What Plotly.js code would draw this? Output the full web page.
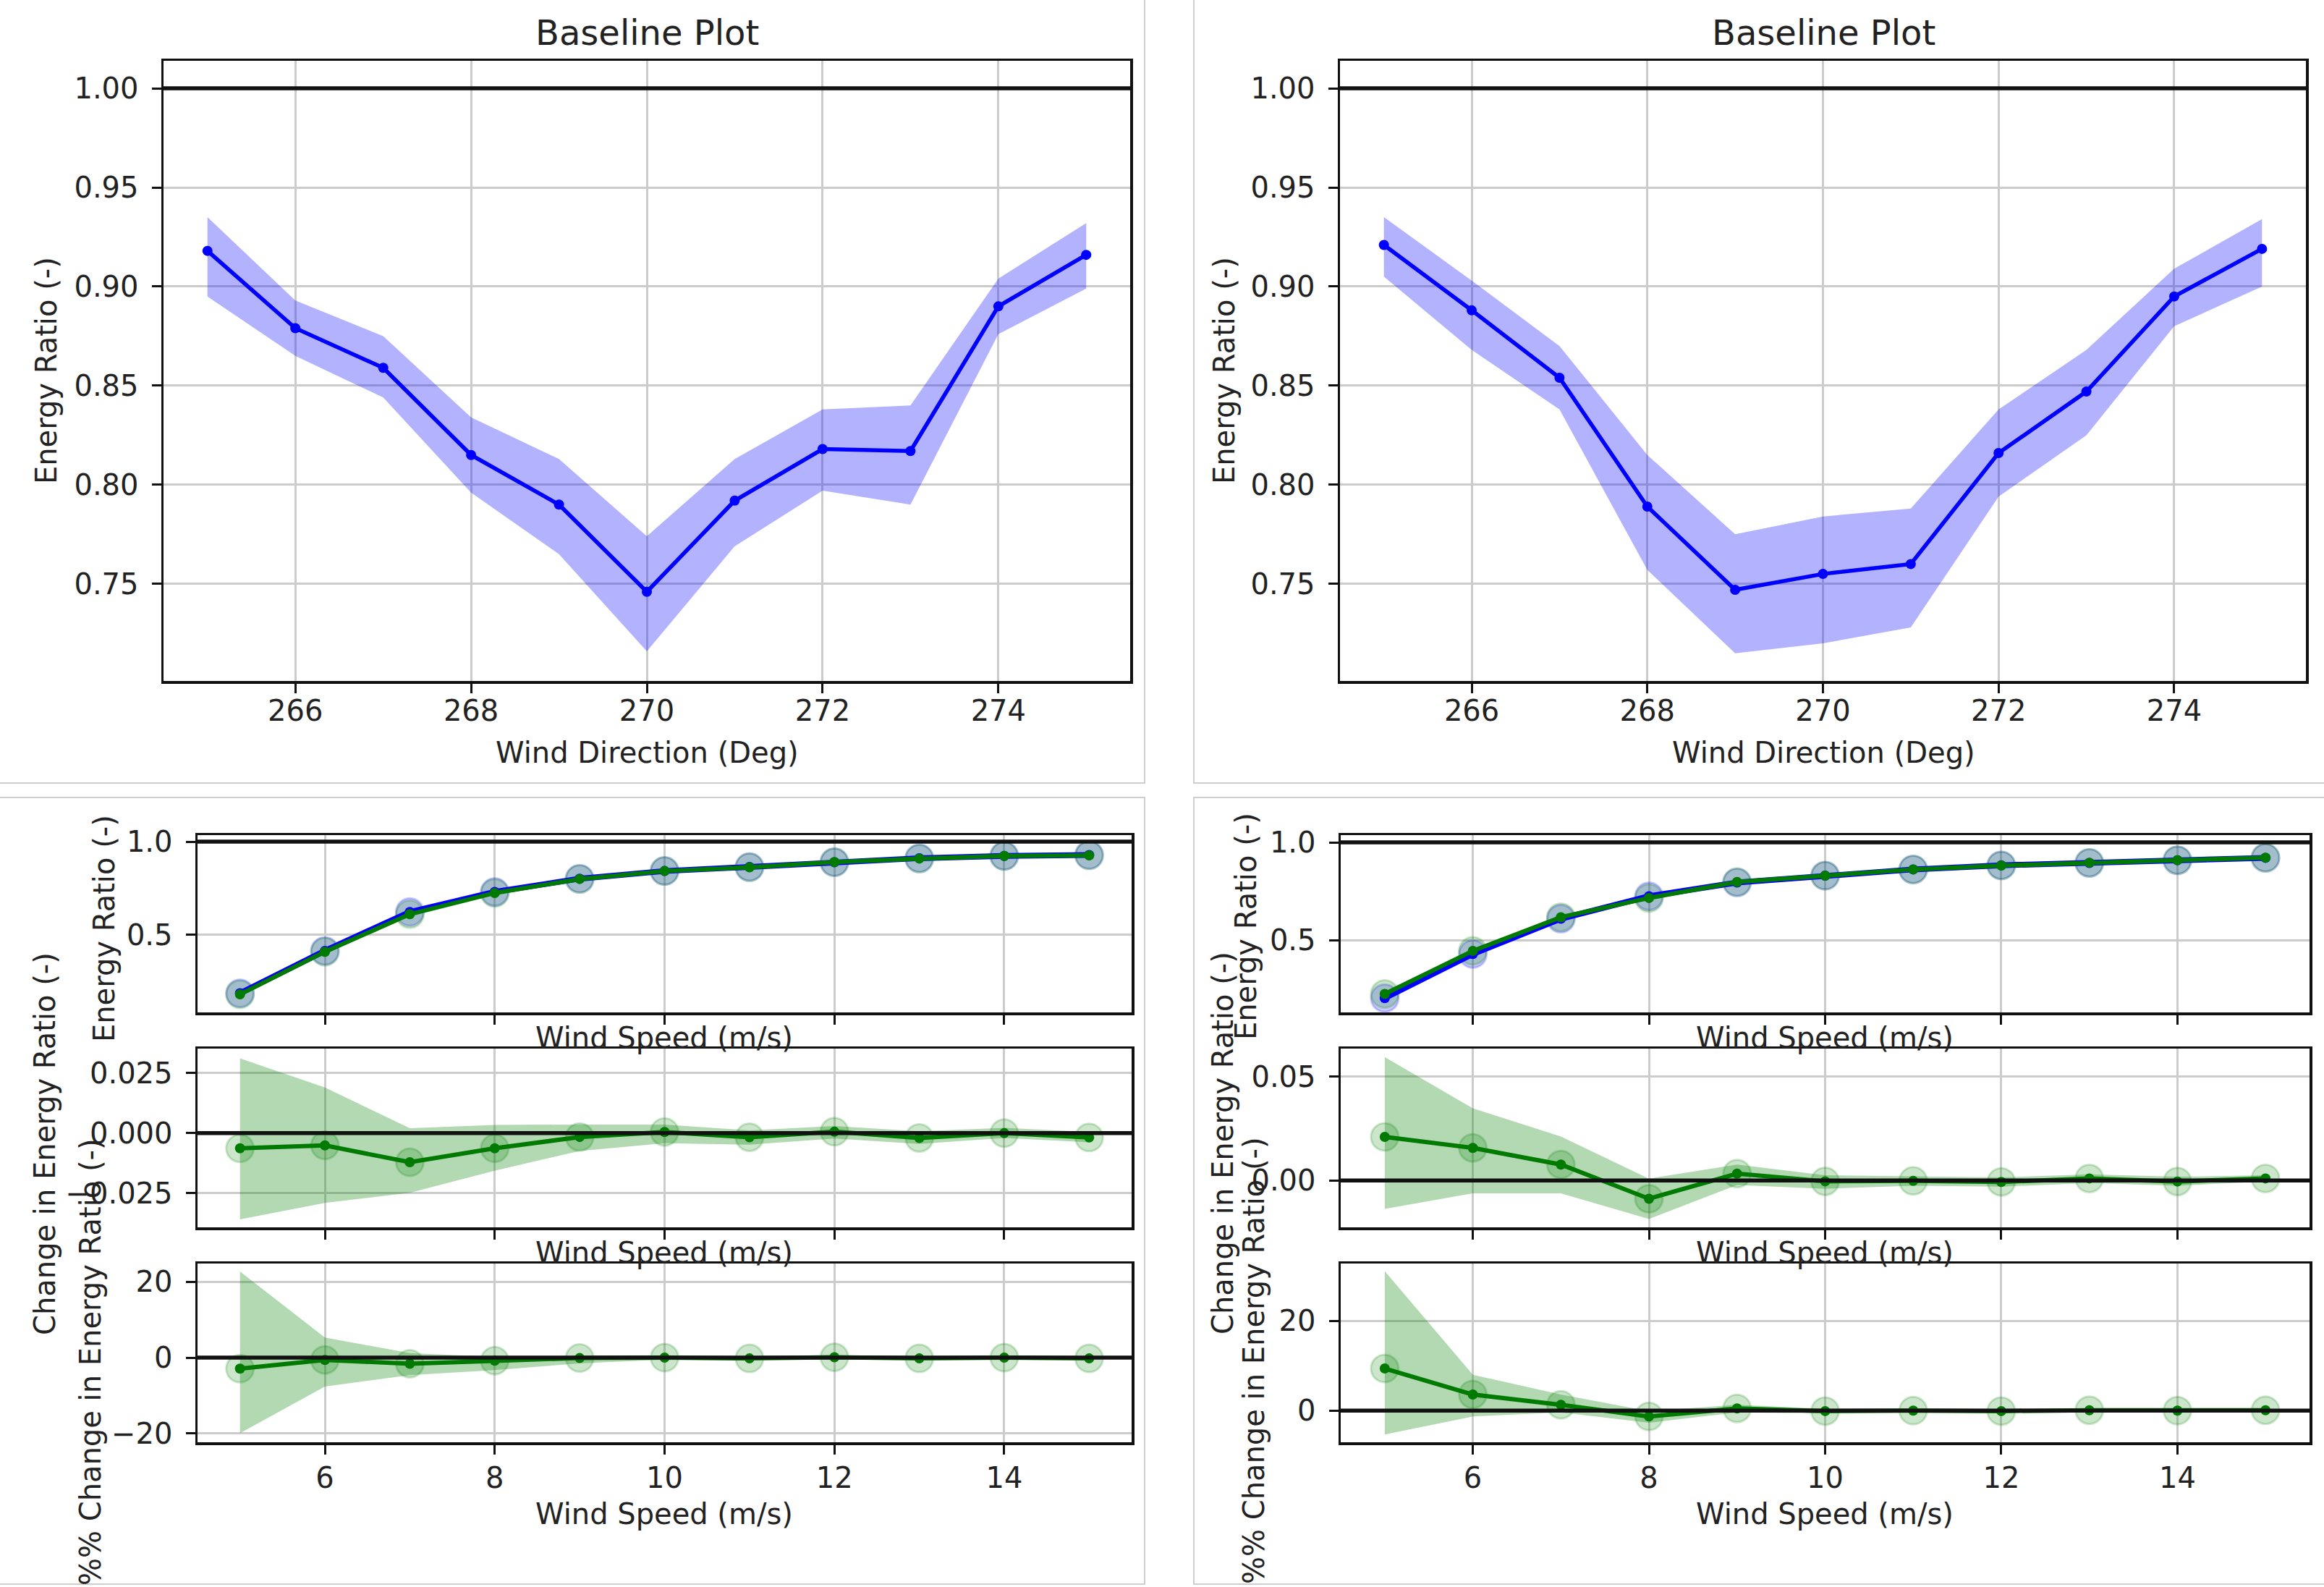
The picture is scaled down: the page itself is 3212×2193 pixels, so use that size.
<!DOCTYPE html>
<html>
<head>
<meta charset="utf-8">
<script src="https://cdn.plot.ly/plotly-3.0.1.min.js"></script>
<style>html,body{margin:0;padding:0;background:#fff;}</style>
</head>
<body>
<div id="chart" style="width:3212px;height:2193px;"></div>
<script>
// ---------------- DATA ----------------
const windDir = [265, 266, 267, 268, 269, 270, 271, 272, 273, 274, 275];
const dirTicks = [266, 268, 270, 272, 274];

// top-left baseline energy ratio
const topL   = [0.918, 0.879, 0.859, 0.815, 0.790, 0.746, 0.792, 0.818, 0.817, 0.890, 0.916];
const topLhi = [0.935, 0.893, 0.875, 0.834, 0.813, 0.774, 0.813, 0.838, 0.840, 0.904, 0.932];
const topLlo = [0.895, 0.865, 0.844, 0.796, 0.765, 0.716, 0.769, 0.797, 0.790, 0.876, 0.899];
// top-right baseline energy ratio
const topR   = [0.921, 0.888, 0.854, 0.789, 0.747, 0.755, 0.760, 0.816, 0.847, 0.895, 0.919];
const topRhi = [0.935, 0.903, 0.870, 0.815, 0.775, 0.784, 0.788, 0.838, 0.868, 0.909, 0.934];
const topRlo = [0.905, 0.868, 0.838, 0.757, 0.715, 0.720, 0.728, 0.794, 0.825, 0.880, 0.900];

const windSpeed = [5, 6, 7, 8, 9, 10, 11, 12, 13, 14, 15];
const speedTicks = [6, 8, 10, 12, 14];

// bottom-left: energy ratio (baseline / controlled), change, % change
const baseL = [0.185, 0.413, 0.622, 0.730, 0.801, 0.842, 0.864, 0.889, 0.911, 0.923, 0.928];
const ctrlL = [0.179, 0.408, 0.610, 0.724, 0.799, 0.842, 0.862, 0.890, 0.909, 0.923, 0.926];
const dL    = [-0.0063, -0.0051, -0.0121, -0.0063, -0.0016, 0.0005, -0.0017, 0.0006, -0.0020, 0.0000, -0.0018];
const dLhi  = [0.0311, 0.0190, 0.0021, 0.0034, 0.0036, 0.0036, 0.0012, 0.0030, 0.0008, 0.0022, 0.0005];
const dLlo  = [-0.0359, -0.0290, -0.0248, -0.0156, -0.0074, -0.0042, -0.0048, -0.0022, -0.0045, -0.0020, -0.0038];
const pL    = [-2.9, -0.6, -1.6, -0.8, -0.1, 0.0, -0.2, 0.1, -0.2, 0.0, -0.2];
const pLhi  = [22.7, 5.3, 1.2, 0.2, 0.4, 0.4, 0.2, 0.3, 0.1, 0.2, 0.1];
const pLlo  = [-19.9, -7.6, -4.6, -3.3, -1.5, -0.5, -0.6, -0.3, -0.5, -0.2, -0.4];

// bottom-right
const baseR = [0.205, 0.430, 0.610, 0.725, 0.795, 0.830, 0.862, 0.883, 0.895, 0.909, 0.921];
const ctrlR = [0.226, 0.446, 0.618, 0.716, 0.798, 0.830, 0.862, 0.882, 0.896, 0.909, 0.922];
const dR    = [0.0210, 0.0157, 0.0077, -0.0088, 0.0033, -0.0004, -0.0002, -0.0007, 0.0010, -0.0005, 0.0010];
const dRhi  = [0.0595, 0.0348, 0.0212, 0.0009, 0.0077, 0.0025, 0.0020, 0.0015, 0.0030, 0.0018, 0.0025];
const dRlo  = [-0.0137, -0.0062, -0.0062, -0.0186, -0.0022, -0.0040, -0.0025, -0.0030, -0.0012, -0.0025, -0.0005];
const pR    = [9.4, 3.6, 1.3, -1.3, 0.5, -0.1, 0.0, -0.1, 0.1, 0.0, 0.1];
const pRhi  = [31.1, 8.0, 3.6, -0.1, 1.3, 0.4, 0.3, 0.2, 0.4, 0.2, 0.3];
const pRlo  = [-5.3, -1.3, -0.4, -2.7, -0.4, -0.6, -0.4, -0.4, -0.2, -0.3, -0.1];

// ---------------- STYLE / LAYOUT ----------------
const W = 3212, H = 2193;
const FONT = 'DejaVu Sans';
const TXT = '#222222';
const BLUE = '#0000ff', GREEN = '#007a00';
const BLUE_FILL = 'rgba(0,0,255,0.3)', GREEN_FILL = 'rgba(0,128,0,0.3)';

function xd(a, b) { return [a / W, b / W]; }
function yd(top, bottom) { return [1 - bottom / H, 1 - top / H]; }

const traces = [];
function band(xs, lo, hi, fill, xa, ya) {
  traces.push({x: xs, y: lo, xaxis: xa, yaxis: ya, mode: 'lines', line: {width: 0, color: fill}, showlegend: false, hoverinfo: 'skip'});
  traces.push({x: xs, y: hi, xaxis: xa, yaxis: ya, mode: 'lines', fill: 'tonexty', fillcolor: fill, line: {width: 0, color: fill}, showlegend: false, hoverinfo: 'skip'});
}
function bigDots(xs, ys, col, xa, ya) {
  traces.push({x: xs, y: ys, xaxis: xa, yaxis: ya, mode: 'markers', showlegend: false,
    marker: {size: 38, color: col, line: {width: 3, color: col}}});
}
function line(xs, ys, col, xa, ya, w) {
  traces.push({x: xs, y: ys, xaxis: xa, yaxis: ya, mode: 'lines+markers', showlegend: false,
    line: {color: col, width: w}, marker: {size: 14, color: col}});
}

// top plots
band(windDir, topLlo, topLhi, BLUE_FILL, 'x', 'y');
line(windDir, topL, BLUE, 'x', 'y', 5.5);
band(windDir, topRlo, topRhi, BLUE_FILL, 'x2', 'y2');
line(windDir, topR, BLUE, 'x2', 'y2', 5.5);

// bottom-left
bigDots(windSpeed, baseL, 'rgba(0,0,255,0.2)', 'x3', 'y3');
bigDots(windSpeed, ctrlL, 'rgba(0,128,0,0.2)', 'x3', 'y3');
line(windSpeed, baseL, BLUE, 'x3', 'y3', 8);
line(windSpeed, ctrlL, GREEN, 'x3', 'y3', 6);
band(windSpeed, dLlo, dLhi, GREEN_FILL, 'x4', 'y4');
bigDots(windSpeed, dL, 'rgba(0,128,0,0.2)', 'x4', 'y4');
line(windSpeed, dL, GREEN, 'x4', 'y4', 6);
band(windSpeed, pLlo, pLhi, GREEN_FILL, 'x5', 'y5');
bigDots(windSpeed, pL, 'rgba(0,128,0,0.2)', 'x5', 'y5');
line(windSpeed, pL, GREEN, 'x5', 'y5', 6);

// bottom-right
bigDots(windSpeed, baseR, 'rgba(0,0,255,0.2)', 'x6', 'y6');
bigDots(windSpeed, ctrlR, 'rgba(0,128,0,0.2)', 'x6', 'y6');
line(windSpeed, baseR, BLUE, 'x6', 'y6', 8);
line(windSpeed, ctrlR, GREEN, 'x6', 'y6', 6);
band(windSpeed, dRlo, dRhi, GREEN_FILL, 'x7', 'y7');
bigDots(windSpeed, dR, 'rgba(0,128,0,0.2)', 'x7', 'y7');
line(windSpeed, dR, GREEN, 'x7', 'y7', 6);
band(windSpeed, pRlo, pRhi, GREEN_FILL, 'x8', 'y8');
bigDots(windSpeed, pR, 'rgba(0,128,0,0.2)', 'x8', 'y8');
line(windSpeed, pR, GREEN, 'x8', 'y8', 6);

function axis(extra) {
  return Object.assign({
    showline: true, mirror: true, linecolor: '#111', linewidth: 3.5,
    ticks: 'outside', ticklen: 13, tickwidth: 3, tickcolor: '#111',
    showgrid: true, gridcolor: '#cccccc', gridwidth: 3, zeroline: false,
    tickfont: {family: FONT, size: 40, color: TXT}, fixedrange: true
  }, extra);
}

const topY = [84, 941];
const p1 = [1154, 1399], p2 = [1449, 1696], p3 = [1746, 1993];
const xTL = [226, 1562], xTR = [1852, 3187], xBL = [273, 1564], xBR = [1853, 3192];

const layout = {
  width: W, height: H, margin: {l: 0, r: 0, t: 0, b: 0},
  paper_bgcolor: '#fff', plot_bgcolor: '#fff', showlegend: false,
  font: {family: FONT, size: 40, color: TXT},
  xaxis:  axis({domain: xd(...xTL), anchor: 'y',  range: [264.5, 275.5], tickvals: dirTicks, ticklabelstandoff: -10}),
  yaxis:  axis({domain: yd(...topY), anchor: 'x',  range: [0.701, 1.0139], tickvals: [0.75, 0.8, 0.85, 0.9, 0.95, 1.0], tickformat: '.2f', ticklabelstandoff: 10}),
  xaxis2: axis({domain: xd(...xTR), anchor: 'y2', range: [264.5, 275.5], tickvals: dirTicks, ticklabelstandoff: -10}),
  yaxis2: axis({domain: yd(...topY), anchor: 'x2', range: [0.701, 1.0139], tickvals: [0.75, 0.8, 0.85, 0.9, 0.95, 1.0], tickformat: '.2f', ticklabelstandoff: 10}),

  xaxis3: axis({domain: xd(...xBL), anchor: 'y3', range: [4.5, 15.5], tickvals: speedTicks, showticklabels: false}),
  yaxis3: axis({domain: yd(...p1), anchor: 'x3', range: [0.082, 1.035], tickvals: [0.5, 1.0], tickformat: '.1f', ticklabelstandoff: 10}),
  xaxis4: axis({domain: xd(...xBL), anchor: 'y4', range: [4.5, 15.5], tickvals: speedTicks, showticklabels: false}),
  yaxis4: axis({domain: yd(...p2), anchor: 'x4', range: [-0.0392, 0.0352], tickvals: [-0.025, 0, 0.025], tickformat: '.3f', ticklabelstandoff: 10}),
  xaxis5: axis({domain: xd(...xBL), anchor: 'y5', range: [4.5, 15.5], tickvals: speedTicks, ticklabelstandoff: -2}),
  yaxis5: axis({domain: yd(...p3), anchor: 'x5', range: [-22.3, 24.8], tickvals: [-20, 0, 20], ticklabelstandoff: 10}),

  xaxis6: axis({domain: xd(...xBR), anchor: 'y6', range: [4.5, 15.5], tickvals: speedTicks, showticklabels: false}),
  yaxis6: axis({domain: yd(...p1), anchor: 'x6', range: [0.132, 1.037], tickvals: [0.5, 1.0], tickformat: '.1f', ticklabelstandoff: 10}),
  xaxis7: axis({domain: xd(...xBR), anchor: 'y7', range: [4.5, 15.5], tickvals: speedTicks, showticklabels: false}),
  yaxis7: axis({domain: yd(...p2), anchor: 'x7', range: [-0.0226, 0.0636], tickvals: [0, 0.05], tickformat: '.2f', ticklabelstandoff: 10}),
  xaxis8: axis({domain: xd(...xBR), anchor: 'y8', range: [4.5, 15.5], tickvals: speedTicks, ticklabelstandoff: -2}),
  yaxis8: axis({domain: yd(...p3), anchor: 'x8', range: [-7.05, 32.8], tickvals: [0, 20], ticklabelstandoff: 10}),
  shapes: [],
  annotations: []
};

// reference lines
const refs = [['x', 'y', 1], ['x2', 'y2', 1], ['x3', 'y3', 1], ['x4', 'y4', 0], ['x5', 'y5', 0],
              ['x6', 'y6', 1], ['x7', 'y7', 0], ['x8', 'y8', 0]];
refs.forEach(r => layout.shapes.push({type: 'line', xref: r[0] + ' domain', yref: r[1], x0: 0, x1: 1, y0: r[2], y1: r[2],
  line: {color: '#111', width: 5.5}, layer: 'above'}));

// panel frames (screenshot borders)
const frames = [[-2, -2, 1582, 1082], [1650, -2, 3220, 1082], [-2, 1102, 1582, 2189], [1650, 1102, 3220, 2189]];
frames.forEach(f => layout.shapes.push({type: 'rect', xref: 'paper', yref: 'paper',
  x0: f[0] / W, x1: f[2] / W, y0: 1 - f[3] / H, y1: 1 - f[1] / H, line: {color: '#cfcfcf', width: 2}, layer: 'below'}));

function ann(text, px, py, size, angle) {
  layout.annotations.push({text: text, xref: 'paper', yref: 'paper', x: px / W, y: 1 - py / H,
    xanchor: 'center', yanchor: 'middle', showarrow: false, textangle: angle || 0,
    font: {family: FONT, size: size, color: TXT}});
}
ann('Baseline Plot', 894, 45, 48);
ann('Baseline Plot', 2520, 45, 48);
ann('Wind Direction (Deg)', 894, 1040, 40);
ann('Wind Direction (Deg)', 2520, 1040, 40);
ann('Energy Ratio (-)', 64, 512, 40, -90);
ann('Energy Ratio (-)', 1692, 512, 40, -90);

ann('Wind Speed (m/s)', 918, 1434, 40);
ann('Wind Speed (m/s)', 918, 1731, 40);
ann('Wind Speed (m/s)', 918, 2092, 40);
ann('Wind Speed (m/s)', 2522, 1434, 40);
ann('Wind Speed (m/s)', 2522, 1731, 40);
ann('Wind Speed (m/s)', 2522, 2092, 40);

ann('Energy Ratio (-)', 144, 1283, 40, -90);
ann('Change in Energy Ratio (-)', 62, 1581, 40, -90);
ann('%% Change in Energy Ratio (-)', 125, 1882, 40, -90);
ann('Energy Ratio (-)', 1722, 1280, 40, -90);
ann('Change in Energy Ratio (-)', 1690, 1580, 40, -90);
ann('%% Change in Energy Ratio (-)', 1733, 1880, 40, -90);

Plotly.newPlot('chart', traces, layout, {staticPlot: true, displayModeBar: false});
</script>
</body>
</html>
